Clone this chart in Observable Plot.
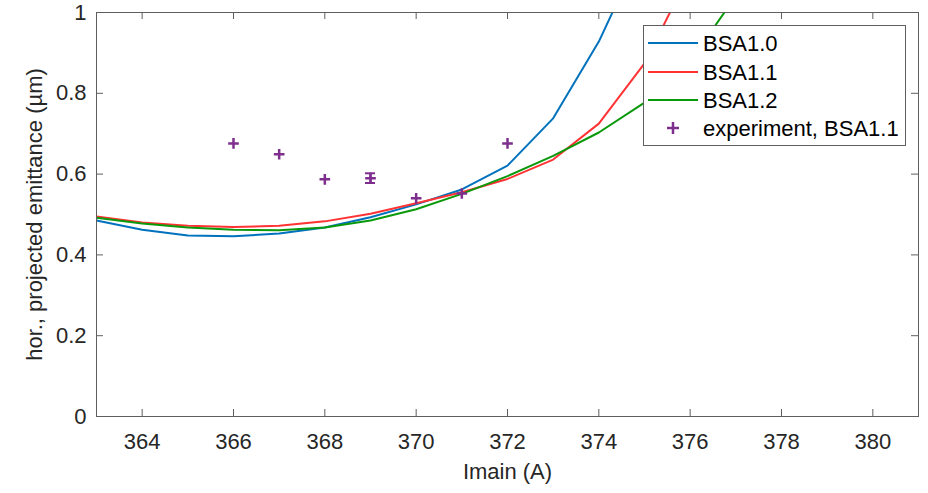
<!DOCTYPE html>
<html>
<head>
<meta charset="utf-8">
<script src="https://cdn.jsdelivr.net/npm/d3@7"></script>
<script src="https://cdn.jsdelivr.net/npm/@observablehq/plot@0.6"></script>
<style>
  html, body { margin: 0; padding: 0; background: #fff; }
  #wrap { position: relative; width: 928px; height: 493px; }
  #legend { position: absolute; left: 643px; top: 25px; }
</style>
</head>
<body>
<div id="wrap"></div>
<script>
// ---- data ----
const xCurve = [363, 364, 365, 366, 367, 368, 369, 370, 371, 372, 373, 374, 375, 376, 377];
const bsa10 = [0.485, 0.462, 0.448, 0.446, 0.453, 0.468, 0.493, 0.525, 0.562, 0.621, 0.738, 0.928, 1.17, null, null];
const bsa11 = [0.495, 0.480, 0.472, 0.469, 0.472, 0.483, 0.502, 0.528, 0.555, 0.588, 0.636, 0.725, 0.874, 1.10, null];
const bsa12 = [0.492, 0.478, 0.468, 0.462, 0.461, 0.468, 0.485, 0.513, 0.551, 0.595, 0.645, 0.703, 0.777, 0.880, 1.04];
const expX = [366, 367, 368, 369, 370, 371, 372];
const expY = [0.676, 0.649, 0.587, 0.590, 0.540, 0.552, 0.676];
const expErr = [0, 0, 0, 0.012, 0, 0, 0];
const seriesNames = ["BSA1.0", "BSA1.1", "BSA1.2"];
const seriesColors = ["#0072BD", "#FF3333", "#0A990A"];
const expName = "experiment, BSA1.1";
const expColor = "#7E2F8E";
const xTicks = [364, 366, 368, 370, 372, 374, 376, 378, 380];
const yTicks = [0, 0.2, 0.4, 0.6, 0.8, 1];

// ---- build tables ----
const seriesVals = [bsa10, bsa11, bsa12];
const curves = [];
seriesVals.forEach((vals, si) => {
  vals.forEach((v, i) => {
    if (v !== null) curves.push({series: seriesNames[si], x: xCurve[i], y: v});
  });
});
const exp = expX.map((x, i) => ({x, y: expY[i], err: expErr[i]}));
const errs = exp.filter(d => d.err > 0);

const xDomain = [363, 381];
const yDomain = [0, 1];
const W = 928, H = 493, mL = 96, mR = 10, mT = 12, mB = 77;
const pxX = (xDomain[1] - xDomain[0]) / (W - mL - mR);
const pxY = (yDomain[1] - yDomain[0]) / (H - mT - mB);
const tickLen = 7;

const plusSymbol = {
  draw(ctx, size) {
    const r = Math.sqrt(size) / 2;
    ctx.moveTo(-r, 0); ctx.lineTo(r, 0);
    ctx.moveTo(0, -r); ctx.lineTo(0, r);
  }
};

const axisColor = "#5f5f5f";
const textColor = "#262626";

const chart = Plot.plot({
  width: W, height: H,
  marginLeft: mL, marginRight: mR, marginTop: mT, marginBottom: mB,
  style: {fontFamily: "'Liberation Sans', Arial, sans-serif", fontSize: "22px", color: textColor, background: "#fff"},
  x: {domain: xDomain},
  y: {domain: yDomain},
  marks: [
    // inward ticks
    Plot.ruleX(xTicks, {x: d => d, y1: 0, y2: tickLen * pxY, stroke: axisColor, strokeWidth: 1}),
    Plot.ruleX(xTicks, {x: d => d, y1: 1, y2: 1 - tickLen * pxY, stroke: axisColor, strokeWidth: 1}),
    Plot.ruleY(yTicks, {y: d => d, x1: xDomain[0], x2: xDomain[0] + tickLen * pxX, stroke: axisColor, strokeWidth: 1}),
    Plot.ruleY(yTicks, {y: d => d, x1: xDomain[1], x2: xDomain[1] - tickLen * pxX, stroke: axisColor, strokeWidth: 1}),
    Plot.axisX({ticks: xTicks, tickSize: 0, tickPadding: 17, label: "Imain (A)", labelAnchor: "center", labelArrow: "none", labelOffset: 62, fill: textColor}),
    Plot.axisY({ticks: yTicks, tickSize: 0, tickPadding: 10, tickFormat: d => String(d), label: "hor., projected emittance (µm)", labelAnchor: "center", labelArrow: "none", labelOffset: 70, fill: textColor}),
    Plot.line(curves, {x: "x", y: "y", z: "series", stroke: d => seriesColors[seriesNames.indexOf(d.series)], strokeWidth: 2, clip: true}),
    Plot.ruleX(errs, {x: "x", y1: d => d.y - d.err, y2: d => d.y + d.err, stroke: expColor, strokeWidth: 2}),
    Plot.ruleY(errs, {y: d => d.y - d.err, x1: d => d.x - 5 * pxX, x2: d => d.x + 5 * pxX, stroke: expColor, strokeWidth: 2}),
    Plot.ruleY(errs, {y: d => d.y + d.err, x1: d => d.x - 5 * pxX, x2: d => d.x + 5 * pxX, stroke: expColor, strokeWidth: 2}),
    Plot.dot(exp, {x: "x", y: "y", symbol: plusSymbol, r: 6, stroke: expColor, strokeWidth: 2.5, fill: "none"}),
    Plot.frame({stroke: axisColor, strokeWidth: 1})
  ]
});
document.getElementById("wrap").appendChild(chart);

// ---- legend (overlay) ----
const lw = 262, lh = 120;
const leg = d3.create("svg").attr("id", "legend").attr("width", lw + 1).attr("height", lh + 1);
leg.append("rect").attr("x", 0.5).attr("y", 0.5).attr("width", lw).attr("height", lh)
  .attr("fill", "#fff").attr("stroke", axisColor).attr("stroke-width", 1);
const rowY = [18, 47, 75, 103];
seriesNames.forEach((name, i) => {
  leg.append("line").attr("x1", 5).attr("x2", 55).attr("y1", rowY[i]).attr("y2", rowY[i])
    .attr("stroke", seriesColors[i]).attr("stroke-width", 2);
  leg.append("text").attr("x", 60).attr("y", rowY[i]).attr("dy", "0.36em")
    .attr("font-family", "'Liberation Sans', Arial, sans-serif").attr("font-size", 22)
    .attr("fill", "#000").text(name);
});
leg.append("path").attr("d", `M24,${rowY[3]}h12M30,${rowY[3] - 6}v12`)
  .attr("stroke", expColor).attr("stroke-width", 2.5).attr("fill", "none");
leg.append("text").attr("x", 60).attr("y", rowY[3]).attr("dy", "0.36em")
  .attr("font-family", "'Liberation Sans', Arial, sans-serif").attr("font-size", 22)
  .attr("fill", "#000").text(expName);
document.getElementById("wrap").appendChild(leg.node());
</script>
</body>
</html>
